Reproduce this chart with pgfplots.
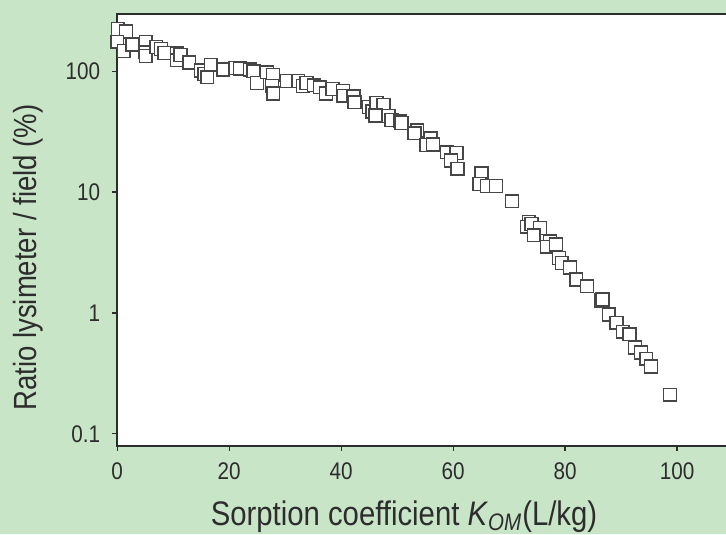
\documentclass[border=0pt]{standalone}
\usepackage{fontspec}
\setmainfont[FakeStretch=0.86]{Liberation Sans}
\usepackage{pgfplots}
\pgfplotsset{compat=1.18}
\definecolor{bggreen}{RGB}{201,229,199}
\definecolor{ink}{RGB}{45,45,45}
\definecolor{edge}{RGB}{70,70,70}

\begin{document}
\begin{tikzpicture}
\fill[bggreen] (-58.5pt,-44pt) rectangle (304.5pt,222.5pt);
\begin{axis}[
    scale only axis,
    width=304.5pt, height=215.5pt,
    at={(0,0)}, anchor=south west,
    ymode=log,
    xmin=0, xmax=109,
    ymin=0.0796, ymax=296.6,
    axis background/.style={fill=white},
    axis line style={ink, line width=1pt},
    xtick={0,20,40,60,80,100},
    xticklabels={0,20,40,60,80,100},
    ytick={0.1,1,10,100},
    yticklabels={0.1,1,10,100},
    yminorticks=false,
    tick align=outside,
    xtick pos=bottom, ytick pos=left,
    major tick length=2.5pt,
    tick style={ink, line width=0.6pt},
    ticklabel style={font=\fontsize{12}{14}\selectfont, text=ink},
    xticklabel style={yshift=-2.5pt},
    yticklabel style={xshift=-2.5pt},
    label style={text=ink},
    xlabel={Sorption coefficient \textit{K}\textsubscript{\textit{OM}}(L/kg)},
    xlabel style={font=\fontsize{17}{20}\selectfont,
        at={(axis description cs:0.47,-0.184)}, anchor=base},
    ylabel={Ratio lysimeter / field (\%)},
    ylabel style={font=\fontsize{16}{19}\selectfont,
        at={(axis description cs:-0.146,0.436)}, anchor=center},
    clip=false,
]
\addplot[only marks, mark=square*, mark size=3.2pt,
    mark options={fill=white, draw=edge, line width=0.7pt}]
coordinates {
(0.1,223) (1.56,213) (0,175) (1.16,147) (2.74,166)
(5.1,175) (5.06,143) (5.1,133) (6.98,158) (7.82,152)
(8.41,141) (10.68,140) (10.68,123) (11.32,136) (12.88,118)
(14.9,101) (15.56,94.4) (16.1,89) (16.69,113) (18.96,103)
(21.1,106) (21.9,105) (23.7,103) (24.33,99.5) (24.96,80)
(26.74,97.8) (27.85,93.2) (27.67,75.5) (27.87,65.3) (30.29,82.6)
(32.34,82.6) (33.18,75.1) (33.8,80) (35.1,76.3) (36.2,73.6)
(37.3,65.2) (38.46,71.3) (40.3,68.3) (40.37,62.6) (42.2,62)
(42.4,55.2) (44.96,50.6) (45.55,46.4) (46.33,54.8) (47.58,52.3)
(46.15,43.0) (48.5,42.4) (49.0,39.3) (50.5,38.5) (50.8,37.3)
(53.6,32.3) (53.1,30.6) (56.0,27.7) (55.2,24.4) (56.4,24.7)
(58.9,21.3) (60.6,21.1) (59.6,18.2) (60.8,15.6) (65.06,14.3)
(64.7,11.65) (66.0,11.2) (67.7,11.2) (70.5,8.37) (73.5,5.64)
(73.2,5.16) (74.0,5.44) (75.5,5.03) (74.4,4.38) (77.3,3.91)
(76.8,3.53) (78.35,3.69) (78.9,2.84) (79.4,2.58) (80.9,2.38)
(82.0,1.89) (83.95,1.66) (86.4,1.27) (86.7,1.29) (87.8,0.97)
(89.2,0.83) (90.3,0.70) (91.5,0.667) (92.5,0.517) (93.6,0.47)
(94.5,0.419) (95.35,0.361) (98.75,0.211)
};
\end{axis}
\pgfresetboundingbox
\path[use as bounding box] (-58.5pt,-44pt) rectangle (303.8pt,222.5pt);
\end{tikzpicture}
\end{document}
